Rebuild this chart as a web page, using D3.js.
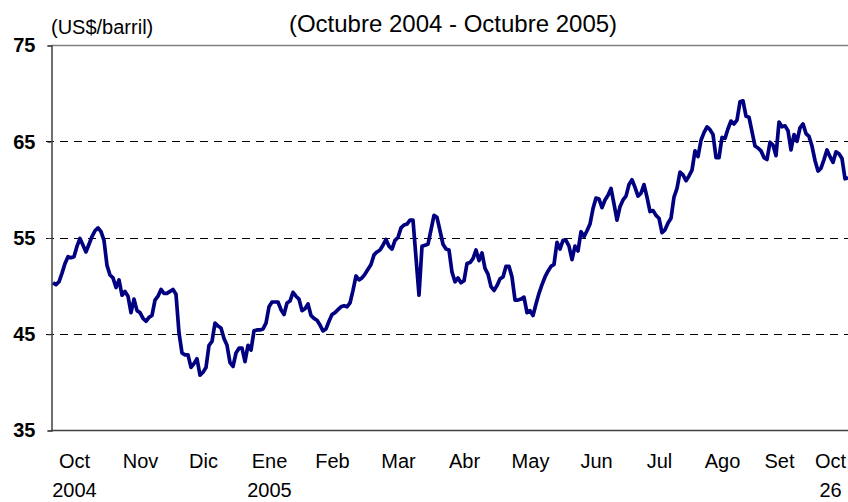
<!DOCTYPE html>
<html>
<head>
<meta charset="utf-8">
<script src="https://cdn.jsdelivr.net/npm/d3@7"></script>
<style>
    body { margin: 0; background: #fff; }
    svg { display: block; font-family: Arial, "Liberation Sans", sans-serif; }
</style>
</head>
<body>
<svg id="chart" width="848" height="502"></svg>
<script>
// daily price, Oct 1 2004 - Oct 26 2005 (US$/barril)
var prices = [
    50.3, 50.1, 50.4, 51.3, 52.3, 53.0, 52.9, 53.0, 54.1, 54.9,
    54.2, 53.5, 54.3, 55.1, 55.7, 56.0, 55.6, 54.7, 52.1, 51.1,
    50.8, 49.8, 50.6, 49.0, 49.4, 48.9, 47.2, 48.6, 47.4, 47.2,
    46.6, 46.3, 46.7, 46.9, 48.5, 48.9, 49.6, 49.2, 49.2, 49.4,
    49.6, 49.1, 45.1, 43.0, 42.8, 42.8, 41.5, 41.9, 42.4, 40.7,
    41.0, 41.5, 43.8, 44.2, 46.1, 45.8, 45.6, 44.5, 43.8, 42.0,
    41.6, 43.0, 43.5, 43.5, 42.1, 43.8, 43.3, 45.3, 45.4, 45.4,
    45.5, 46.1, 47.8, 48.3, 48.3, 48.3, 47.5, 47.0, 48.2, 48.4,
    49.3, 48.9, 48.6, 47.4, 47.6, 48.1, 46.9, 46.6, 46.4, 45.9,
    45.3, 45.5, 46.3, 47.0, 47.2, 47.5, 47.8, 47.9, 47.8, 48.2,
    49.5, 51.0, 50.6, 50.8, 51.2, 51.7, 52.2, 53.2, 53.5, 53.7,
    54.2, 54.8, 54.1, 53.8, 54.7, 55.0, 56.0, 56.3, 56.4, 56.8,
    56.8, 52.9, 49.0, 54.1, 54.2, 54.3, 55.8, 57.3, 57.1, 55.7,
    54.3, 53.8, 53.7, 51.4, 50.4, 50.8, 50.3, 50.5, 52.3, 52.4,
    52.8, 53.7, 52.6, 53.4, 51.8, 51.2, 49.9, 49.5, 50.0, 50.7,
    50.9, 52.0, 52.0, 50.9, 48.5, 48.5, 48.6, 48.8, 47.2, 47.4,
    46.9, 48.1, 49.2, 50.1, 50.9, 51.5, 52.0, 52.2, 54.5, 53.8,
    54.7, 54.7, 54.1, 52.7, 54.1, 53.6, 55.6, 55.1, 55.7, 56.4,
    58.0, 59.1, 59.0, 58.1, 58.9, 59.4, 60.1, 58.5, 56.8, 58.2,
    58.9, 59.3, 60.5, 61.0, 60.2, 59.3, 59.6, 60.5, 59.2, 57.7,
    57.8, 57.3, 57.0, 55.5, 55.8, 56.5, 57.0, 59.2, 60.1, 61.8,
    61.5, 60.9, 61.4, 62.0, 64.0, 63.4, 65.1, 65.9, 66.5, 66.2,
    65.7, 63.3, 63.3, 65.4, 65.3, 66.3, 67.1, 66.8, 67.2, 69.1,
    69.2, 67.6, 67.5, 66.0, 64.5, 64.3, 64.0, 63.3, 63.1, 64.9,
    64.6, 63.5, 67.0, 66.5, 66.6, 66.1, 64.1, 65.7, 65.0, 66.4,
    66.8, 65.8, 65.5, 64.5, 63.0, 61.9, 62.2, 63.1, 64.1, 63.4,
    62.8, 63.9, 63.7, 63.2, 61.1, 61.2
];

// x axis labels (trading day where each label sits)
var monthLabels = ["Oct", "Nov", "Dic", "Ene", "Feb", "Mar", "Abr", "May", "Jun", "Jul", "Ago", "Set", "Oct"];
var monthIdx = [7, 29, 50, 72, 93, 115, 137, 159, 181, 202, 223, 242, 259];
var yearLabels = ["2004", "", "", "2005", "", "", "", "", "", "", "", "", "26"];

var yTicks = [35, 45, 55, 65, 75];
var gridTicks = [45, 55, 65];

var svg = d3.select("#chart");

var plot = { left: 51, right: 848, top: 45, bottom: 430 };
var font = "Arial, 'Liberation Sans', sans-serif";

var x = d3.scaleLinear()
    .domain([0, prices.length - 1])
    .range([plot.left + 2, plot.right]);

var y = d3.scaleLinear()
    .domain([35, 75])
    .range([plot.bottom, plot.top]);

// dashed grid
svg.selectAll("line.grid")
    .data(gridTicks)
    .enter()
    .append("line")
    .attr("class", "grid")
    .attr("x1", plot.left - 5)
    .attr("x2", plot.right)
    .attr("y1", function (d) { return Math.round(y(d)) + 0.5; })
    .attr("y2", function (d) { return Math.round(y(d)) + 0.5; })
    .attr("stroke", "#000")
    .attr("stroke-width", 1)
    .attr("stroke-dasharray", "8,6");

// top border
svg.append("line")
    .attr("x1", plot.left).attr("x2", plot.right)
    .attr("y1", y(75) + 0.5).attr("y2", y(75) + 0.5)
    .attr("stroke", "#808080")
    .attr("stroke-width", 1.5);

// y axis
var yAxis = svg.append("g")
    .attr("transform", "translate(" + (plot.left + 0.5) + ",0.5)")
    .call(d3.axisLeft(y).tickValues(yTicks).tickSize(4).tickPadding(12));
yAxis.select(".domain").attr("stroke", "#404040").attr("stroke-width", 1.5);
yAxis.selectAll(".tick line").attr("stroke", "#404040");
yAxis.selectAll("text")
    .attr("font-family", font)
    .attr("font-size", "20px")
    .attr("font-weight", "bold")
    .attr("fill", "#000");

// x axis line
svg.append("line")
    .attr("x1", plot.left).attr("x2", plot.right)
    .attr("y1", plot.bottom + 0.5).attr("y2", plot.bottom + 0.5)
    .attr("stroke", "#404040")
    .attr("stroke-width", 1.5);

var xAxis = svg.append("g")
    .attr("transform", "translate(0," + plot.bottom + ")")
    .call(d3.axisBottom(x)
        .tickValues(monthIdx)
        .tickSize(0)
        .tickFormat(function (d, i) { return monthLabels[i]; }));
xAxis.select(".domain").remove();
xAxis.selectAll("text")
    .attr("y", 38)
    .attr("dy", null)
    .attr("font-family", font)
    .attr("font-size", "20px")
    .attr("fill", "#000");

xAxis.selectAll(".tick")
    .append("text")
    .text(function (d, i) { return yearLabels[i]; })
    .attr("y", 67)
    .attr("text-anchor", "middle")
    .attr("fill", "#000")
    .attr("font-family", font)
    .attr("font-size", "20px");

// price line
var line = d3.line()
    .x(function (d, i) { return x(i); })
    .y(function (d) { return y(d); });

svg.append("path")
    .datum(prices)
    .attr("d", line)
    .attr("fill", "none")
    .attr("stroke", "#000080")
    .attr("stroke-width", 3.7)
    .attr("stroke-linejoin", "round");

// titles
svg.append("text")
    .text("(US$/barril)")
    .attr("x", 51)
    .attr("y", 34)
    .attr("font-family", font)
    .attr("font-size", "20px")
    .attr("fill", "#000");

svg.append("text")
    .text("(Octubre 2004 - Octubre 2005)")
    .attr("x", 453)
    .attr("y", 32)
    .attr("text-anchor", "middle")
    .attr("font-family", font)
    .attr("font-size", "24px")
    .attr("fill", "#000");
</script>
</body>
</html>
